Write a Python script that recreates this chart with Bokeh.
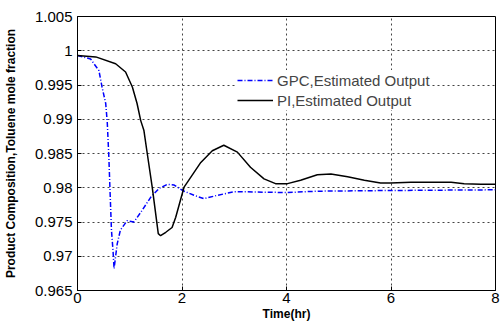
from bokeh.plotting import figure
from bokeh.models import FixedTicker, CustomJSTickFormatter, Range1d, Legend, LegendItem
from bokeh.embed import file_html
from bokeh.resources import INLINE

# Data
t_pi = [0, 0.35, 0.73, 0.92, 1.05, 1.14, 1.21, 1.27, 1.335, 1.43, 1.546, 1.59, 1.69, 1.81, 1.88,
        2.04, 2.36, 2.58, 2.80, 3.06, 3.31, 3.57, 3.79, 4.02, 4.27, 4.59, 4.85, 5.17, 5.49,
        5.80, 5.99, 6.38, 7.15, 7.40, 7.72, 8.0]
y_pi = [0.9993, 0.9991, 0.9981, 0.9969, 0.9947, 0.9923, 0.9898, 0.9884, 0.9850, 0.9801, 0.9733,
        0.9730, 0.9735, 0.9742, 0.9757, 0.9801, 0.9837, 0.9854, 0.9862, 0.9852, 0.9830, 0.9813,
        0.9806, 0.9806, 0.9811, 0.9819, 0.9820, 0.9816, 0.9811, 0.9807, 0.9807, 0.9808, 0.9808,
        0.9806, 0.9805, 0.9805]

t_gpc = [0, 0.25, 0.41, 0.47, 0.54, 0.57, 0.60, 0.62, 0.65, 0.68, 0.70, 0.76, 0.82, 0.95, 1.08,
         1.21, 1.40, 1.56, 1.72, 1.85, 2.01, 2.23, 2.42, 2.68, 2.99, 3.25, 4.0, 4.6, 6.0, 8.0]
y_gpc = [0.9993, 0.9988, 0.9971, 0.9947, 0.9923, 0.9895, 0.9845, 0.9801, 0.9738, 0.9708, 0.9682,
         0.9718, 0.9738, 0.9752, 0.9750, 0.9764, 0.9786, 0.9799, 0.9805, 0.9804, 0.9796, 0.9789,
         0.9784, 0.9789, 0.9794, 0.9794, 0.9793, 0.9795, 0.9796, 0.9797]

x_ticks = [0, 2, 4, 6, 8]
y_ticks = [0.965, 0.97, 0.975, 0.98, 0.985, 0.99, 0.995, 1.0, 1.005]

gpc_label = "GPC,Estimated Output"
pi_label = "PI,Estimated Output"
x_label = "Time(hr)"
y_label = "Product Composition,Toluene mole fraction"

FONT = "Liberation Sans"

p = figure(width=500, height=328, output_backend="svg", toolbar_location=None,
           x_range=Range1d(0, 8), y_range=Range1d(0.965, 1.005),
           min_border_left=77, min_border_right=5, min_border_top=16, min_border_bottom=38)

p.outline_line_color = "black"
p.outline_line_width = 1

p.xaxis.ticker = FixedTicker(ticks=x_ticks)
p.yaxis.ticker = FixedTicker(ticks=y_ticks)
p.yaxis.formatter = CustomJSTickFormatter(code="return parseFloat(tick.toFixed(3)).toString();")

for ax in (p.xaxis[0], p.yaxis[0]):
    ax.major_label_text_font = FONT
    ax.major_label_text_font_size = "15px"
    ax.major_label_text_color = "black"
    ax.axis_label_text_font = FONT
    ax.axis_label_text_font_size = "12px"
    ax.axis_label_text_font_style = "bold"
    ax.axis_label_text_color = "black"
    ax.major_tick_in = 4
    ax.major_tick_out = 0
    ax.minor_tick_in = 0
    ax.minor_tick_out = 0
    ax.axis_line_color = "black"
    ax.major_tick_line_color = "black"

p.xaxis.axis_label = x_label
p.yaxis.axis_label = y_label
p.xaxis.major_label_standoff = 2
p.xaxis.axis_label_standoff = 1
p.yaxis.major_label_standoff = 5
p.yaxis.axis_label_standoff = 14

p.grid.grid_line_color = "#444444"
p.grid.grid_line_dash = "2 3"
p.grid.grid_line_width = 1

r_gpc = p.line(t_gpc, y_gpc, line_color="#0000ff", line_width=1.5, line_dash="5 2 1 2")
r_pi = p.line(t_pi, y_pi, line_color="black", line_width=1.5)

legend = Legend(items=[LegendItem(label=gpc_label, renderers=[r_gpc]),
                       LegendItem(label=pi_label, renderers=[r_pi])],
                location=(160, 180))
legend.border_line_color = None
legend.background_fill_color = "white"
legend.background_fill_alpha = 1
legend.label_text_font = FONT
legend.label_text_font_size = "15px"
legend.glyph_width = 36
legend.spacing = 0
legend.padding = 4
legend.margin = 0
legend.label_standoff = 4
p.add_layout(legend, "center")

open("out.html", "w").write(file_html(p, INLINE))
